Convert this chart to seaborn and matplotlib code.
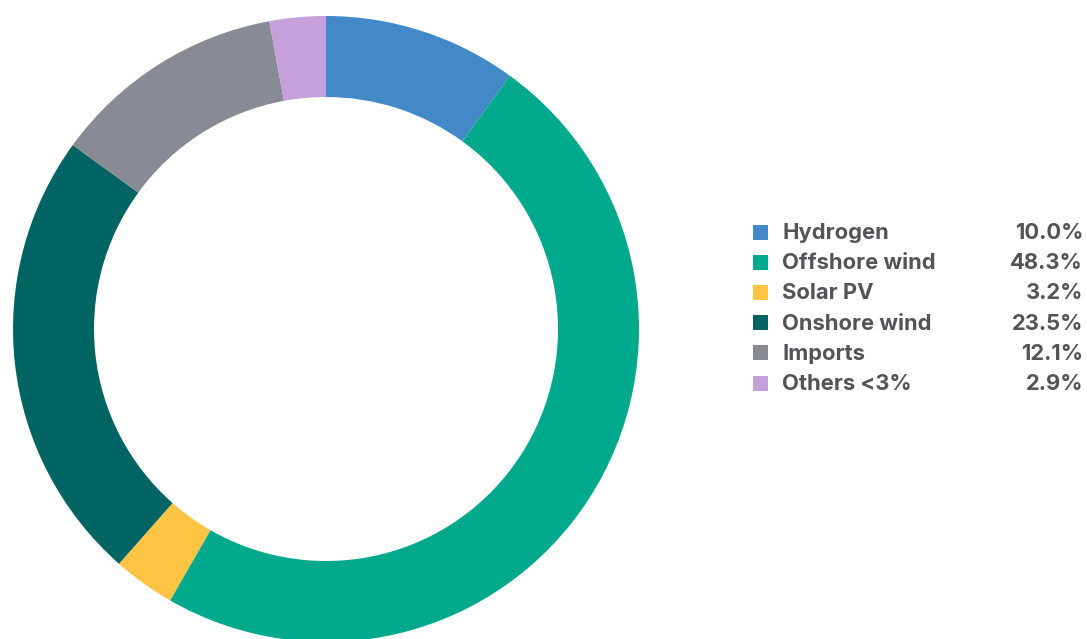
import matplotlib
matplotlib.use("Agg")
import matplotlib.pyplot as plt
import seaborn as sns
from matplotlib.patches import Rectangle

# --- DATA ---
sources = ["Hydrogen", "Offshore wind", "Solar PV", "Onshore wind", "Imports", "Others <3%"]
shares = [10.0, 48.3, 3.2, 23.5, 12.1, 2.9]
colors = ["#4389C8", "#00A88C", "#FFC444", "#006462", "#888A94", "#C6A0DA"]

sns.set_theme(style="white")
plt.rcParams["font.family"] = ["Inter", "DejaVu Sans"]

W, H = 1087, 639
fig = plt.figure(figsize=(W / 100, H / 100), dpi=100)

# --- DONUT ---
cx, cy, r_out, r_in = 326, 329, 313, 232
ax = fig.add_axes([(cx - r_out) / W, (H - cy - r_out) / H, 2 * r_out / W, 2 * r_out / H])
ax.pie(shares, colors=sns.color_palette(colors), startangle=90, counterclock=False,
       radius=1, wedgeprops=dict(width=(r_out - r_in) / r_out, linewidth=0))
ax.set_xlim(-1, 1)
ax.set_ylim(-1, 1)
ax.axis("off")

# --- LEGEND ---
lg = fig.add_axes([0, 0, 1, 1])
lg.set_xlim(0, W)
lg.set_ylim(H, 0)
lg.axis("off")
text_color = "#545458"
for i, (name, val, col) in enumerate(zip(sources, shares, colors)):
    y = 232 + i * 30.2
    lg.add_patch(Rectangle((753, y - 7.5), 15, 15, color=col, lw=0))
    lg.text(782, y + 1, name, va="center", ha="left", fontsize=15.8, fontweight="bold", color=text_color)
    lg.text(1083, y + 1, f"{val:.1f}%", va="center", ha="right", fontsize=15.8, fontweight="bold", color=text_color)

fig.savefig("out.png", dpi=100)
